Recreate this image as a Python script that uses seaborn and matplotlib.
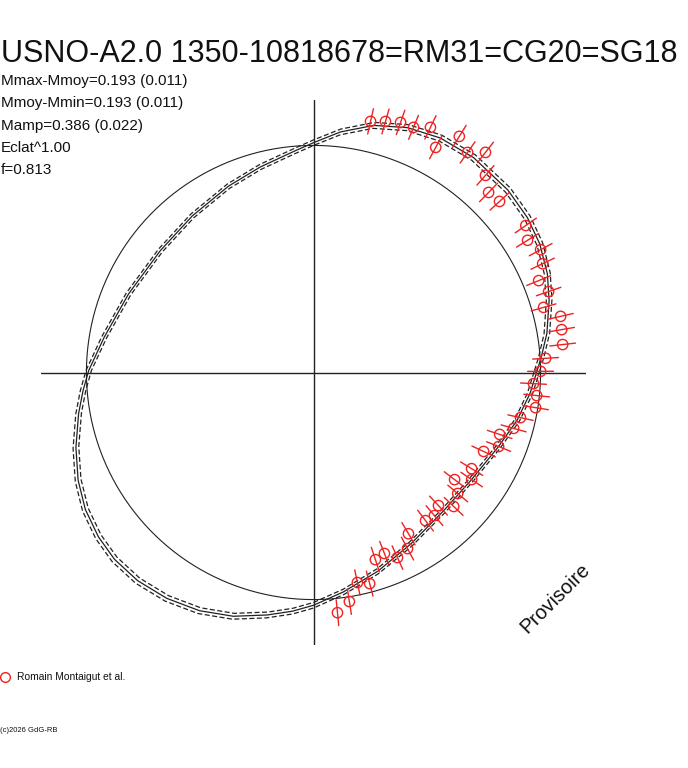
import numpy as np
import pandas as pd
import matplotlib
matplotlib.use('Agg')
import matplotlib.pyplot as plt
import seaborn as sns
from matplotlib.lines import Line2D

# --- données ---
titre = 'USNO-A2.0 1350-10818678=RM31=CG20=SG18'
stats = ['Mmax-Mmoy=0.193 (0.011)',
         'Mmoy-Mmin=0.193 (0.011)',
         'Mamp=0.386 (0.022)',
         'Eclat^1.00',
         'f=0.813']
observateur = 'Romain Montaigut et al.'

# courbe ajustée : angle (degrés) et rayon relatif (cercle = 1)
fit_ang = [0.5, 3.8, 9.5, 17.0, 22.9, 29.6, 35.9, 43.2, 53.3, 61.6, 69.0, 76.3,
           83.6, 90.0, 95.0, 104.5, 114.5, 127.7, 141.4, 157.0, 170.5, 179.5,
           184.5, 189.9, 197.5, 204.6, 211.0, 217.4, 223.2, 229.8, 237.0, 244.4,
           251.8, 259.2, 265.0, 270.0, 277.8, 287.9, 299.6, 313.3, 325.5, 337.8,
           346.8, 354.5]
fit_r = [0.985, 1.005, 1.042, 1.085, 1.118, 1.146, 1.163, 1.174, 1.18, 1.174, 1.155, 1.12,
         1.066, 1.012, 0.978, 0.935, 0.902, 0.872, 0.862, 0.885, 0.935, 0.99,
         1.018, 1.05, 1.097, 1.140, 1.172, 1.192, 1.202, 1.200, 1.186, 1.163,
         1.13, 1.087, 1.055, 1.025, 0.975, 0.92, 0.868, 0.836, 0.84, 0.876,
         0.921, 0.958]
fit_err = 0.012

# mesures : angle (degrés) et rayon relatif
obs_ang = [77.2, 74.0, 70.8, 67.8, 64.5, 61.5, 58.3, 55.0, 52.0, 48.9, 45.8, 42.6,
           34.7, 31.7, 28.4, 25.4, 22.2, 19.0, 15.8, 12.8, 9.8, 6.4, 3.5, 0.3,
           -2.9, -5.9, -9.0, -12.3, -15.6, -18.4, -21.8, -24.9, -31.3, -34.1, -37.2,
           -40.0, -43.7, -46.8, -49.8, -52.9, -59.5, -61.9, -65.6, -68.6, -71.7,
           -75.1, -78.2, -81.1, -84.3]
obs_r = [1.134, 1.150, 1.166, 1.166, 1.196, 1.128, 1.222, 1.183, 1.230, 1.152, 1.106, 1.113,
         1.137, 1.108, 1.137, 1.117, 1.071, 1.095, 1.053, 1.116, 1.109, 1.104, 1.024, 1.000,
         0.970, 0.988, 0.990, 0.933, 0.915, 0.864, 0.878, 0.826, 0.815, 0.841, 0.780,
         0.829, 0.854, 0.804, 0.825, 0.818, 0.824, 0.879, 0.895, 0.856, 0.868,
         0.962, 0.945, 1.021, 1.063]
obs_err = 0.057

# --- mise en forme ---
sns.set_style('white')
plt.rcParams['font.family'] = ['Liberation Sans', 'DejaVu Sans']

W, H = 688, 768
fig = plt.figure(figsize=(W / 100, H / 100), dpi=100)
ax = fig.add_axes([41 / W, 123 / H, 545 / W, 545 / H])
ax.set_xlim(-1.2, 1.2)
ax.set_ylim(-1.2, 1.2)
ax.axis('off')

# axes en croix
ax.axhline(0, color='#222222', lw=1.0)
ax.axvline(0, color='#222222', lw=1.0)

# cercle de référence
t = np.linspace(0, 2 * np.pi, 361)
ax.plot(np.cos(t), np.sin(t), color='#222222', lw=0.8)

# courbe ajustée + enveloppe
a = np.radians(fit_ang + fit_ang[:1])
r = np.array(fit_r + fit_r[:1])
courbe = pd.DataFrame({'x': r * np.cos(a), 'y': r * np.sin(a)})
sns.lineplot(data=courbe, x='x', y='y', sort=False, estimator=None, color='#222222', lw=0.9, ax=ax)
for s in (1 - fit_err, 1 + fit_err):
    ax.plot(r * s * np.cos(a), r * s * np.sin(a), color='#222222', lw=0.9, ls=(0, (4, 2)))

# barres d'erreur radiales
oa = np.radians(obs_ang)
orr = np.array(obs_r)
ex, ey = [], []
for th, rr in zip(oa, orr):
    ex += [(rr - obs_err) * np.cos(th), (rr + obs_err) * np.cos(th), np.nan]
    ey += [(rr - obs_err) * np.sin(th), (rr + obs_err) * np.sin(th), np.nan]
ax.plot(ex, ey, color='#ee2222', lw=1.0, clip_on=False)

mesures = pd.DataFrame({'x': orr * np.cos(oa), 'y': orr * np.sin(oa)})
sns.scatterplot(data=mesures, x='x', y='y', marker='o', s=55, facecolors='none',
                edgecolor='#ee2222', linewidth=1.0, ax=ax, clip_on=False, zorder=5)

# textes
def ft(x, y, txt, **kw):
    fig.text(x / W, 1 - y / H, txt, va='center', **kw)

ft(1, 54, titre, fontsize=22, color='#111111')
for i, s in enumerate(stats):
    ft(1, 81 + i * 22.3, s, fontsize=11, color='#111111')

fig.add_artist(Line2D([5 / W], [1 - 677 / H], marker='o', ms=7, mfc='none', mec='#ee2222',
                      mew=1.0, transform=fig.transFigure))
ft(17, 677, observateur, fontsize=7.4, color='#111111')
ft(0, 730, '(c)2026 GdG-RB', fontsize=5.5, color='#111111')

fig.text(555 / W, 1 - 598 / H, 'Provisoire', rotation=45, ha='center', va='center',
         fontsize=14.5, color='#111111')

fig.savefig('out.png', dpi=100)
